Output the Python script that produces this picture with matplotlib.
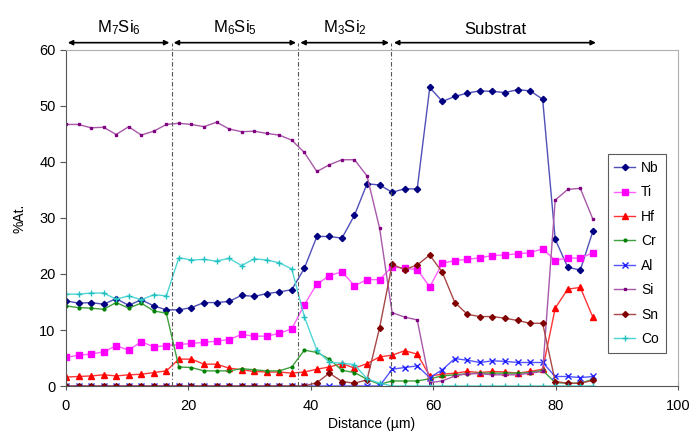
import matplotlib
matplotlib.use("Agg")
import matplotlib.pyplot as plt

plt.rcParams['font.family'] = ['Liberation Sans', 'DejaVu Sans']
plt.rcParams['mathtext.fontset'] = 'custom'
plt.rcParams['mathtext.rm'] = 'Liberation Sans'
plt.rcParams['mathtext.it'] = 'Liberation Sans'

# distance of each measurement point (µm)
distance = [0, 2.05, 4.10, 6.15, 8.20, 10.25, 12.30, 14.35, 16.40, 18.45,
            20.50, 22.55, 24.60, 26.65, 28.70, 30.75, 32.80, 34.85, 36.90, 38.95,
            41.00, 43.05, 45.10, 47.15, 49.20, 51.25, 53.30, 55.35, 57.40, 59.45,
            61.50, 63.55, 65.60, 67.65, 69.70, 71.75, 73.80, 75.85, 77.90, 79.95,
            82.00, 84.05, 86.10]

nb = [15.2, 14.8, 14.9, 14.6, 15.6, 14.4, 15.4, 14.3, 13.6, 13.6,
      14.0, 14.9, 14.9, 15.1, 16.2, 16.0, 16.5, 16.8, 17.2, 21.0,
      26.7, 26.7, 26.4, 30.5, 36.1, 35.9, 34.6, 35.2, 35.2, 53.3,
      50.8, 51.7, 52.3, 52.7, 52.6, 52.4, 52.9, 52.7, 51.2, 26.2,
      21.2, 20.7, 27.6]
ti = [5.1, 5.5, 5.7, 6.1, 7.2, 6.4, 7.9, 7.0, 7.2, 7.4,
      7.6, 7.8, 8.0, 8.3, 9.2, 8.9, 8.9, 9.4, 10.2, 14.5,
      18.2, 19.7, 20.4, 17.9, 19.0, 19.0, 21.3, 21.0, 20.8, 17.7,
      21.9, 22.4, 22.6, 22.9, 23.3, 23.4, 23.6, 23.8, 24.5, 22.4,
      22.9, 22.8, 23.8]
hf = [1.6, 1.7, 1.8, 2.0, 1.8, 2.0, 2.1, 2.4, 2.7, 4.8,
      4.8, 3.9, 3.9, 3.2, 2.9, 2.6, 2.5, 2.5, 2.3, 2.5,
      3.0, 3.4, 4.0, 3.2, 4.0, 5.2, 5.5, 6.3, 5.7, 1.8,
      2.1, 2.3, 2.6, 2.4, 2.6, 2.5, 2.3, 2.6, 3.0, 13.9,
      17.3, 17.6, 12.3]
cr = [14.3, 14.0, 13.9, 13.7, 14.9, 13.9, 14.8, 13.4, 13.0, 3.4,
      3.3, 2.7, 2.7, 2.7, 3.1, 2.9, 2.7, 2.7, 3.4, 6.4,
      6.0, 4.8, 2.8, 2.4, 1.2, 0.3, 0.9, 0.9, 0.9, 1.3,
      1.8, 2.0, 2.2, 2.3, 2.3, 2.3, 2.3, 2.4, 2.8, 0.6,
      0.5, 0.5, 1.2]
al = [0, 0, 0, 0, 0, 0, 0, 0, 0, 0,
      0, 0, 0, 0, 0, 0, 0, 0, 0, 0,
      0, 0, 0, 0, 0, 0, 3.0, 3.3, 3.6, 1.5,
      2.9, 4.9, 4.6, 4.2, 4.5, 4.4, 4.2, 4.2, 4.2, 1.7,
      1.7, 1.5, 1.7]
si = [46.7, 46.7, 46.1, 46.2, 44.9, 46.3, 44.8, 45.5, 46.7, 46.9,
      46.7, 46.3, 47.1, 45.9, 45.4, 45.5, 45.1, 44.8, 43.9, 41.7,
      38.3, 39.5, 40.4, 40.4, 37.5, 28.2, 13.1, 12.3, 11.8, 0.6,
      0.9, 1.8, 2.2, 2.2, 2.0, 2.0, 2.0, 2.3, 2.6, 33.2,
      35.1, 35.3, 29.8]
sn = [0, 0, 0, 0, 0, 0, 0, 0, 0, 0,
      0, 0, 0, 0, 0, 0, 0, 0, 0, 0,
      0.6, 2.3, 0.8, 0.5, 1.1, 10.4, 21.7, 20.8, 21.6, 23.4,
      20.3, 14.9, 12.8, 12.4, 12.4, 12.1, 11.7, 11.2, 11.2, 0.8,
      0.5, 0.5, 1.0]
co = [16.4, 16.4, 16.6, 16.6, 15.5, 16.1, 15.4, 16.3, 16.1, 22.9,
      22.5, 22.6, 22.3, 22.8, 21.5, 22.7, 22.5, 22.0, 20.9, 12.4,
      6.4, 4.2, 4.1, 3.8, 1.3, 0.5, 0, 0, 0, 0,
      0, 0, 0, 0, 0, 0, 0, 0, 0, 0,
      0, 0, 0]

# phase zones: (label, start, end) in µm
zone_labels = [r'M$_7$Si$_6$', r'M$_6$Si$_5$', r'M$_3$Si$_2$', 'Substrat']
zone_start = [0.3, 17.6, 38.3, 53.6]
zone_end = [16.9, 37.6, 52.8, 86.6]
boundaries = [17.3, 37.9, 53.1]

fig = plt.figure(figsize=(6.93, 4.46), dpi=100)
ax = fig.add_axes([0.0952, 0.1345, 0.883, 0.7535])

styles = [
    ('Nb', nb, '#5050b8', '#000080', 'D', 3.2),
    ('Ti', ti, '#ff60ff', '#ff00ff', 's', 4),
    ('Hf', hf, '#ff3535', '#ff0000', '^', 4.5),
    ('Cr', cr, '#40a040', '#008000', 'o', 2),
    ('Al', al, '#5555ff', '#2020ff', 'x', 5),
    ('Si', si, '#a858a8', '#800080', 's', 2),
    ('Sn', sn, '#a84848', '#800000', 'D', 3),
    ('Co', co, '#50d5d5', '#20c0c0', '+', 4),
]
for name, vals, lc, mc, mk, ms in styles:
    ax.plot(distance, vals, color=lc, lw=1, marker=mk, ms=ms,
            mfc=mc, mec=mc, mew=1, label=name)

ax.set_xlim(0, 100)
ax.set_ylim(0, 60)
ax.set_xticks([0, 20, 40, 60, 80, 100])
ax.set_yticks([0, 10, 20, 30, 40, 50, 60])
ax.tick_params(labelsize=10.5, length=4, color='#555555')
ax.tick_params(axis='x', direction='inout', length=6, pad=6)
for s in ['top', 'right']:
    ax.spines[s].set_color('#b0b0b0')
ax.spines['left'].set_color('#555555')
ax.spines['bottom'].set_color('#555555')

ax.set_xlabel('Distance (µm)', fontsize=10, labelpad=3)
ax.set_ylabel('%At.', fontsize=10, labelpad=9)

# zone boundaries and arrows
for b in boundaries:
    ax.plot([b, b], [0, 61.3], ls=(0, (4, 2, 1, 2)), color='#555555',
            lw=0.8, clip_on=False)
for lab, x0, x1 in zip(zone_labels, zone_start, zone_end):
    ax.annotate('', xy=(x0, 61.3), xytext=(x1, 61.3),
                arrowprops=dict(arrowstyle='<|-|>', color='black', lw=1.2,
                                mutation_scale=7, shrinkA=0, shrinkB=0),
                annotation_clip=False)
    ax.text((x0 + x1) / 2, 62.3, lab, ha='center', va='bottom',
            fontsize=12, clip_on=False)

leg = ax.legend(loc='upper left', bbox_to_anchor=(0.885, 0.69), fontsize=10,
                frameon=True, fancybox=False, edgecolor='#333333',
                handlelength=1.5, handletextpad=0.4, labelspacing=0.75,
                borderpad=0.5, borderaxespad=0)
leg.get_frame().set_linewidth(0.8)

fig.savefig('out.png', dpi=100)
